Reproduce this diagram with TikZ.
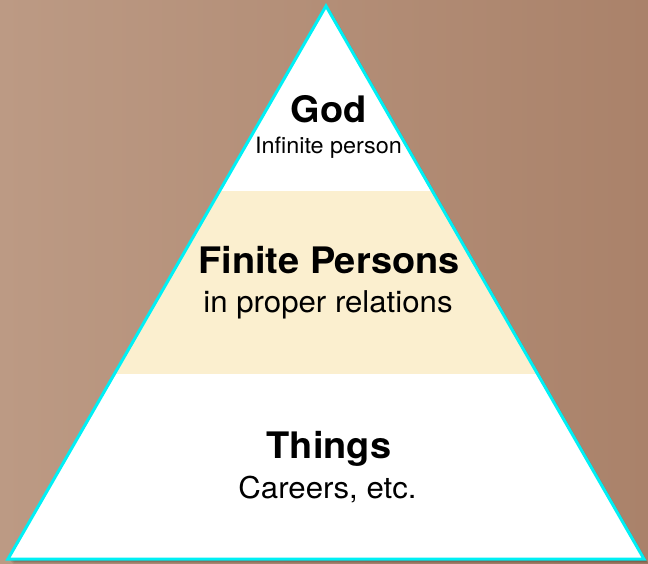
\documentclass[tikz,border=0pt]{standalone}
\usepackage{fontspec}
\setmainfont{TeX Gyre Heros}[FakeStretch=1.04]
\usetikzlibrary{calc}
\begin{document}
\begin{tikzpicture}[x=1pt,y=-1pt,
  heading/.style={anchor=base,font=\fontsize{36.5}{40}\selectfont\bfseries,text=black,inner sep=0pt},
  subtext/.style={anchor=base,font=\fontsize{30}{34}\selectfont,text=black,inner sep=0pt},
  smallsub/.style={anchor=base,font=\fontsize{22.5}{26}\selectfont,text=black,inner sep=0pt}]
\definecolor{bgleft}{RGB}{188,154,132}
\definecolor{bgright}{RGB}{170,130,106}
\definecolor{cream}{RGB}{251,239,207}
\definecolor{edgecyan}{RGB}{0,240,245}
\useasboundingbox (0,0) rectangle (648,564);
\shade[left color=bgleft,right color=bgright] (0,0) rectangle (648,564);
\coordinate (apex) at (326,6);
\coordinate (bl) at (8,559);
\coordinate (br) at (644,559);
% soft shadow
\foreach \o/\a in {5/0.06,4/0.08,3/0.1,2/0.12}{
  \fill[black,opacity=\a] ($(apex)+(\o,\o)$) -- ($(br)+(\o,\o)$) -- ($(bl)+(\o,\o)$) -- cycle;
}
\fill[white] (apex) -- (br) -- (bl) -- cycle;
\begin{scope}
  \clip (apex) -- (br) -- (bl) -- cycle;
  \fill[cream] (0,191) rectangle (648,374);
\end{scope}
\draw[edgecyan,line width=3pt,line join=miter] (apex) -- (br) -- (bl) -- cycle;
\node[heading] (god) at (328.5,123) {God};
\node[smallsub] (inf) at (328.5,153.5) {Infinite person};
\node[heading] (finite) at (329,273) {Finite Persons};
\node[subtext] (proper) at (328,312) {in proper relations};
\node[heading] (things) at (329,458) {Things};
\node[subtext] (careers) at (327.5,498) {Careers, etc.};
\end{tikzpicture}
\end{document}
